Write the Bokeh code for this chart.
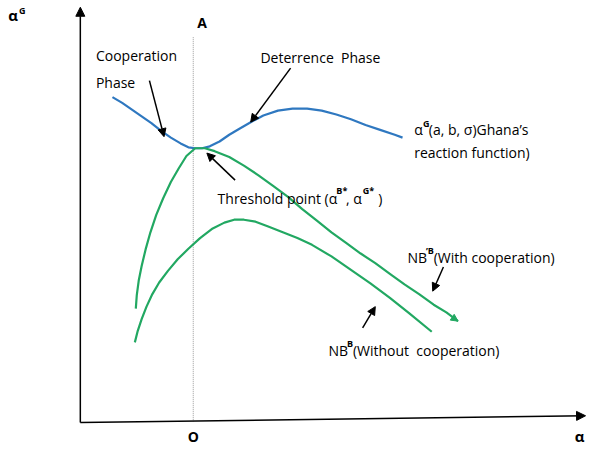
from bokeh.plotting import figure
from bokeh.models import Range1d, Arrow, NormalHead
from bokeh.core.properties import value
from bokeh.embed import file_html
from bokeh.resources import INLINE

# Ghana's reaction function alpha^G(a, b, sigma)
blue_x = [115, 125, 135, 145, 155, 165, 175, 185, 193, 200, 207, 215, 225, 235, 245, 257,
          270, 285, 300, 315, 330, 345, 360, 375, 390, 405, 413]
blue_y = [100, 106, 113, 120, 127, 135, 142, 148, 152, 153, 153, 151, 146, 139, 133, 126,
          119, 114, 112, 112, 114, 118, 123, 129, 134, 139, 142]

# NB'^B (with cooperation)
coop_x = [139, 140, 142, 145, 149, 154, 160, 167, 175, 183, 191, 200, 210, 220, 235, 250,
          265, 280, 295, 310, 325, 340, 355, 370, 385, 400, 415, 430, 445, 458, 470]
coop_y = [319, 305, 290, 275, 258, 240, 222, 205, 188, 174, 161, 153, 153, 156, 162, 171,
          181, 192, 203, 216, 228, 240, 251, 262, 272, 283, 294, 304, 315, 323, 332]

# NB^B (without cooperation)
nocoop_x = [138, 141, 145, 150, 156, 163, 172, 182, 193, 205, 218, 230, 240, 250, 262, 275,
            290, 305, 320, 340, 360, 380, 400, 420, 443]
nocoop_y = [354, 342, 330, 317, 304, 292, 280, 268, 257, 246, 236, 230, 227, 227, 229, 234,
            240, 246, 253, 265, 279, 293, 308, 324, 343]

BLUE = "#2f78c0"
GREEN = "#22a862"
FONT = "Open Sans"
NB2 = "\u00a0\u00a0"

p = figure(width=587, height=451, output_backend="svg", toolbar_location=None,
           x_range=Range1d(0, 603), y_range=Range1d(467, 0),
           x_axis_type=None, y_axis_type=None, min_border=0)
p.xgrid.visible = False
p.ygrid.visible = False
p.outline_line_color = None
p.background_fill_color = "white"

# axes with arrowheads
p.add_layout(Arrow(x_start=82, y_start=437, x_end=82, y_end=7, line_width=1.5,
                   end=NormalHead(size=9, fill_color="black", line_color="black")))
p.add_layout(Arrow(x_start=82, y_start=437, x_end=601, y_end=430, line_width=1.5,
                   end=NormalHead(size=9, fill_color="black", line_color="black")))
# dotted vertical line at A / O
p.line([198, 198], [38, 436], line_color="#9a9a9a", line_dash="1 1", line_width=1)

# curves
p.line(blue_x, blue_y, line_color=BLUE, line_width=2.2)
p.line(nocoop_x, nocoop_y, line_color=GREEN, line_width=2.2)
p.line(coop_x, coop_y, line_color=GREEN, line_width=2.2)
p.add_layout(Arrow(x_start=coop_x[-3], y_start=coop_y[-3], x_end=coop_x[-1], y_end=coop_y[-1],
                   line_alpha=0, end=NormalHead(size=7, fill_color=GREEN, line_color=GREEN)))

# annotation arrows
ann = [((153, 83), (168, 141)), ((298, 70), (257, 126)), ((241, 186), (212, 158)),
       ((455, 276), (444, 301)), ((372, 339), (385, 317))]
for (x0, y0), (x1, y1) in ann:
    p.add_layout(Arrow(x_start=x0, y_start=y0, x_end=x1, y_end=y1, line_width=1.5,
                       end=NormalHead(size=8, fill_color="black", line_color="black")))

DY = -4

def txt(x, y, s, size=14, bold=False, align="left"):
    p.text(x=[x], y=[y + DY], text=[s], text_font=value(FONT), text_font_size=f"{size}px",
           text_font_style="bold" if bold else "normal", text_color="#000000",
           text_baseline="alphabetic", text_align=align)

txt(98, 61, "Cooperation")
txt(98, 89, "Phase")
txt(267, 63, "Deterrence" + NB2 + "Phase")
# reaction function label
txt(425, 138, "α")
txt(434, 131, "G", size=9, bold=True)
txt(440, 138, "(a, b, σ)Ghana’s")
txt(425, 161, "reaction function)")
# threshold
txt(223, 209, "Threshold point (α")
txt(345, 201, "B*", size=9, bold=True)
txt(355, 209, ", α")
txt(372, 201, "G*", size=9, bold=True)
txt(388, 209, ")")
# NB labels
txt(418, 270, "NB")
txt(437, 263, "’B", size=9, bold=True)
txt(445, 270, "(With cooperation)")
txt(337, 366, "NB")
txt(356, 359, "B", size=9, bold=True)
txt(362, 366, "(Without" + NB2 + "cooperation)")
# axis labels
txt(8, 19, "α", size=15, bold=True)
txt(19, 14, "G", size=9, bold=True)
txt(207, 27, "A", size=14, bold=True, align="center")
txt(198, 455, "O", size=14, bold=True, align="center")
txt(595, 455, "α", size=15, bold=True, align="center")

open("out.html", "w").write(file_html(p, INLINE))
